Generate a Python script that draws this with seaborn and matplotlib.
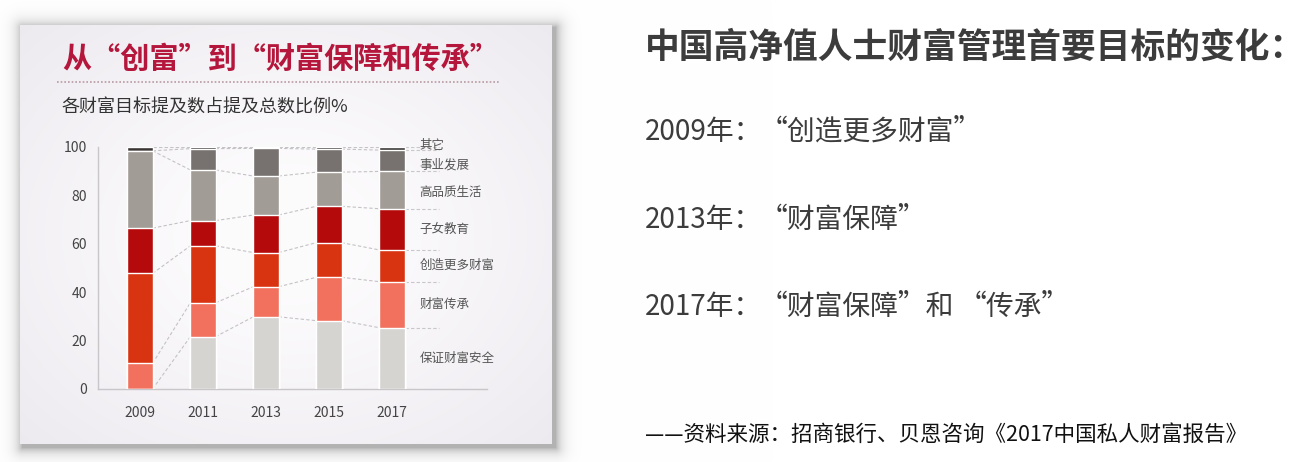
import numpy as np
import pandas as pd
import seaborn as sns
import matplotlib.pyplot as plt

sns.set_style("white")
plt.rcParams['font.family'] = ['Noto Sans CJK SC', 'DejaVu Sans']

years = ['2009', '2011', '2013', '2015', '2017']
goals = ['保证财富安全', '财富传承', '创造更多财富', '子女教育', '高品质生活', '事业发展', '其它']
safety = [0, 21.6, 29.8, 28.2, 25.3]
inherit = [10.6, 14.0, 12.4, 17.9, 19.0]
create = [37.1, 23.5, 14.1, 14.3, 13.1]
education = [18.7, 10.4, 15.5, 15.0, 17.0]
quality = [31.9, 20.9, 16.1, 14.1, 15.4]
career = [0, 8.8, 11.4, 9.5, 8.8]
other = [1.7, 0.8, 0.7, 1.0, 1.4]
colors = ['#d6d4d1', '#f2705e', '#d93412', '#b50a0c', '#a29c96', '#77726f', '#3a3534']

W, H = 1314, 462
fig = plt.figure(figsize=(W / 100, H / 100), dpi=100)
fig.patch.set_facecolor('white')

# panel background with soft shadow
bg = fig.add_axes([0, 0, 1, 1], zorder=-5)
yy, xx = np.mgrid[0:H, 0:W]
x0, x1, y0, y1 = 20, 551, 25, 443
dx = np.maximum(np.maximum(x0 + 2 - xx, xx - x1 - 4), 0)
dy = np.maximum(np.maximum(y0 + 2 - yy, yy - y1 - 4), 0)
dist = np.hypot(dx, dy)
shade = 0.30 * np.exp(-dist / 6.0)
img = np.ones((H, W, 3)) * (1 - shade)[..., None]
inside = (xx >= x0) & (xx <= x1) & (yy >= y0) & (yy <= y1)
cx, cy = (x0 + x1) / 2, (y0 + y1) / 2
r = np.hypot((xx - cx) / (x1 - x0), (yy - cy) / (y1 - y0))
base = np.array([0.99, 0.985, 0.99])
edge = np.array([0.93, 0.92, 0.94])
t = np.clip((r - 0.15) / 0.55, 0, 1)[..., None]
panel = base * (1 - t) + edge * t
img[inside] = panel[inside]
bg.imshow(img, extent=[0, W, H, 0], aspect='auto')
bg.set_xlim(0, W)
bg.set_ylim(H, 0)
bg.axis('off')

# stacked bars
ax = fig.add_axes([98 / W, (H - 389) / H, 389 / W, 242.3 / H])
ax.set_facecolor('none')
layers = [safety, inherit, create, education, quality, career, other]
cum = np.cumsum(np.array(layers), axis=0)
for k in range(len(layers) - 1, -1, -1):
    df = pd.DataFrame({'year': years, 'v': cum[k]})
    sns.barplot(data=df, x='year', y='v', order=years, color=colors[k],
                saturation=1, width=0.4, errorbar=None, ax=ax, zorder=3)

# dashed connectors between bar boundaries
hw = 0.2
for k in range(len(layers)):
    for i in range(len(years) - 1):
        ax.plot([i + hw, i + 1 - hw], [cum[k][i], cum[k][i + 1]],
                color='#c4c2c4', lw=0.8, ls=(0, (3, 2)), zorder=2)
    ax.plot([4 + hw, 4.75], [cum[k][4], cum[k][4]],
            color='#c8c6c8', lw=0.8, ls=(0, (3, 2)), zorder=2)

# category labels beside the 2017 bar
nudge = [0, 0, 0, 0, -1.2, -1.8, 1.4]
lows = np.vstack([np.zeros(5), cum[:-1]])
for k, name in enumerate(goals):
    ymid = (lows[k][4] + cum[k][4]) / 2 + nudge[k]
    ax.text(4.44, ymid, name, fontsize=9, color='#555555', va='center',
            ha='left', zorder=5)

ax.set_xlim(-0.667, 5.51)
ax.set_ylim(0, 100)
ax.set_yticks([0, 20, 40, 60, 80, 100])
ax.set_xlabel('')
ax.set_ylabel('')
for s in ['top', 'right']:
    ax.spines[s].set_visible(False)
for s in ['left', 'bottom']:
    ax.spines[s].set_color('#c8c6c8')
    ax.spines[s].set_linewidth(1.0)
ax.tick_params(axis='y', length=3, color='#c8c6c8', labelsize=10,
               labelcolor='#444444', pad=5)
ax.tick_params(axis='x', length=0, labelsize=10, labelcolor='#444444', pad=12)

# titles inside the panel
fig.text(62 / W, 1 - 59 / H, '从“创富”到“财富保障和传承”', fontsize=21,
         fontweight='black', color='#b5163c', va='center', ha='left')
fig.add_artist(plt.Line2D([57 / W, 500 / W], [1 - 82 / H, 1 - 82 / H],
                          color='#b89aa2', lw=1.2, ls=(0, (1, 1.2))))
fig.text(62 / W, 1 - 108 / H, '各财富目标提及数占提及总数比例%', fontsize=13,
         color='#333333', va='center', ha='left')

# right-hand text
fig.text(645 / W, 1 - 47 / H, '中国高净值人士财富管理首要目标的变化：', fontsize=25,
         fontweight='bold', color='#3c3c3c', va='center', ha='left')
rows = [(132, '2009年：', ['“创造更多财富”']),
        (220, '2013年：', ['“财富保障”']),
        (307, '2017年：', ['“财富保障”和', '“传承”'])]
quote_x = [760, 959]
for y, head, parts in rows:
    fig.text(645 / W, 1 - y / H, head, fontsize=20, color='#3c3c3c',
             va='center', ha='left')
    for j, p in enumerate(parts):
        fig.text(quote_x[j] / W, 1 - y / H, p, fontsize=20, color='#3c3c3c',
                 va='center', ha='left')
fig.text(645 / W, 1 - 435 / H, '——资料来源：招商银行、贝恩咨询《2017中国私人财富报告》',
         fontsize=15.5, color='#111111', va='center', ha='left')

fig.savefig('out.png', dpi=100)
